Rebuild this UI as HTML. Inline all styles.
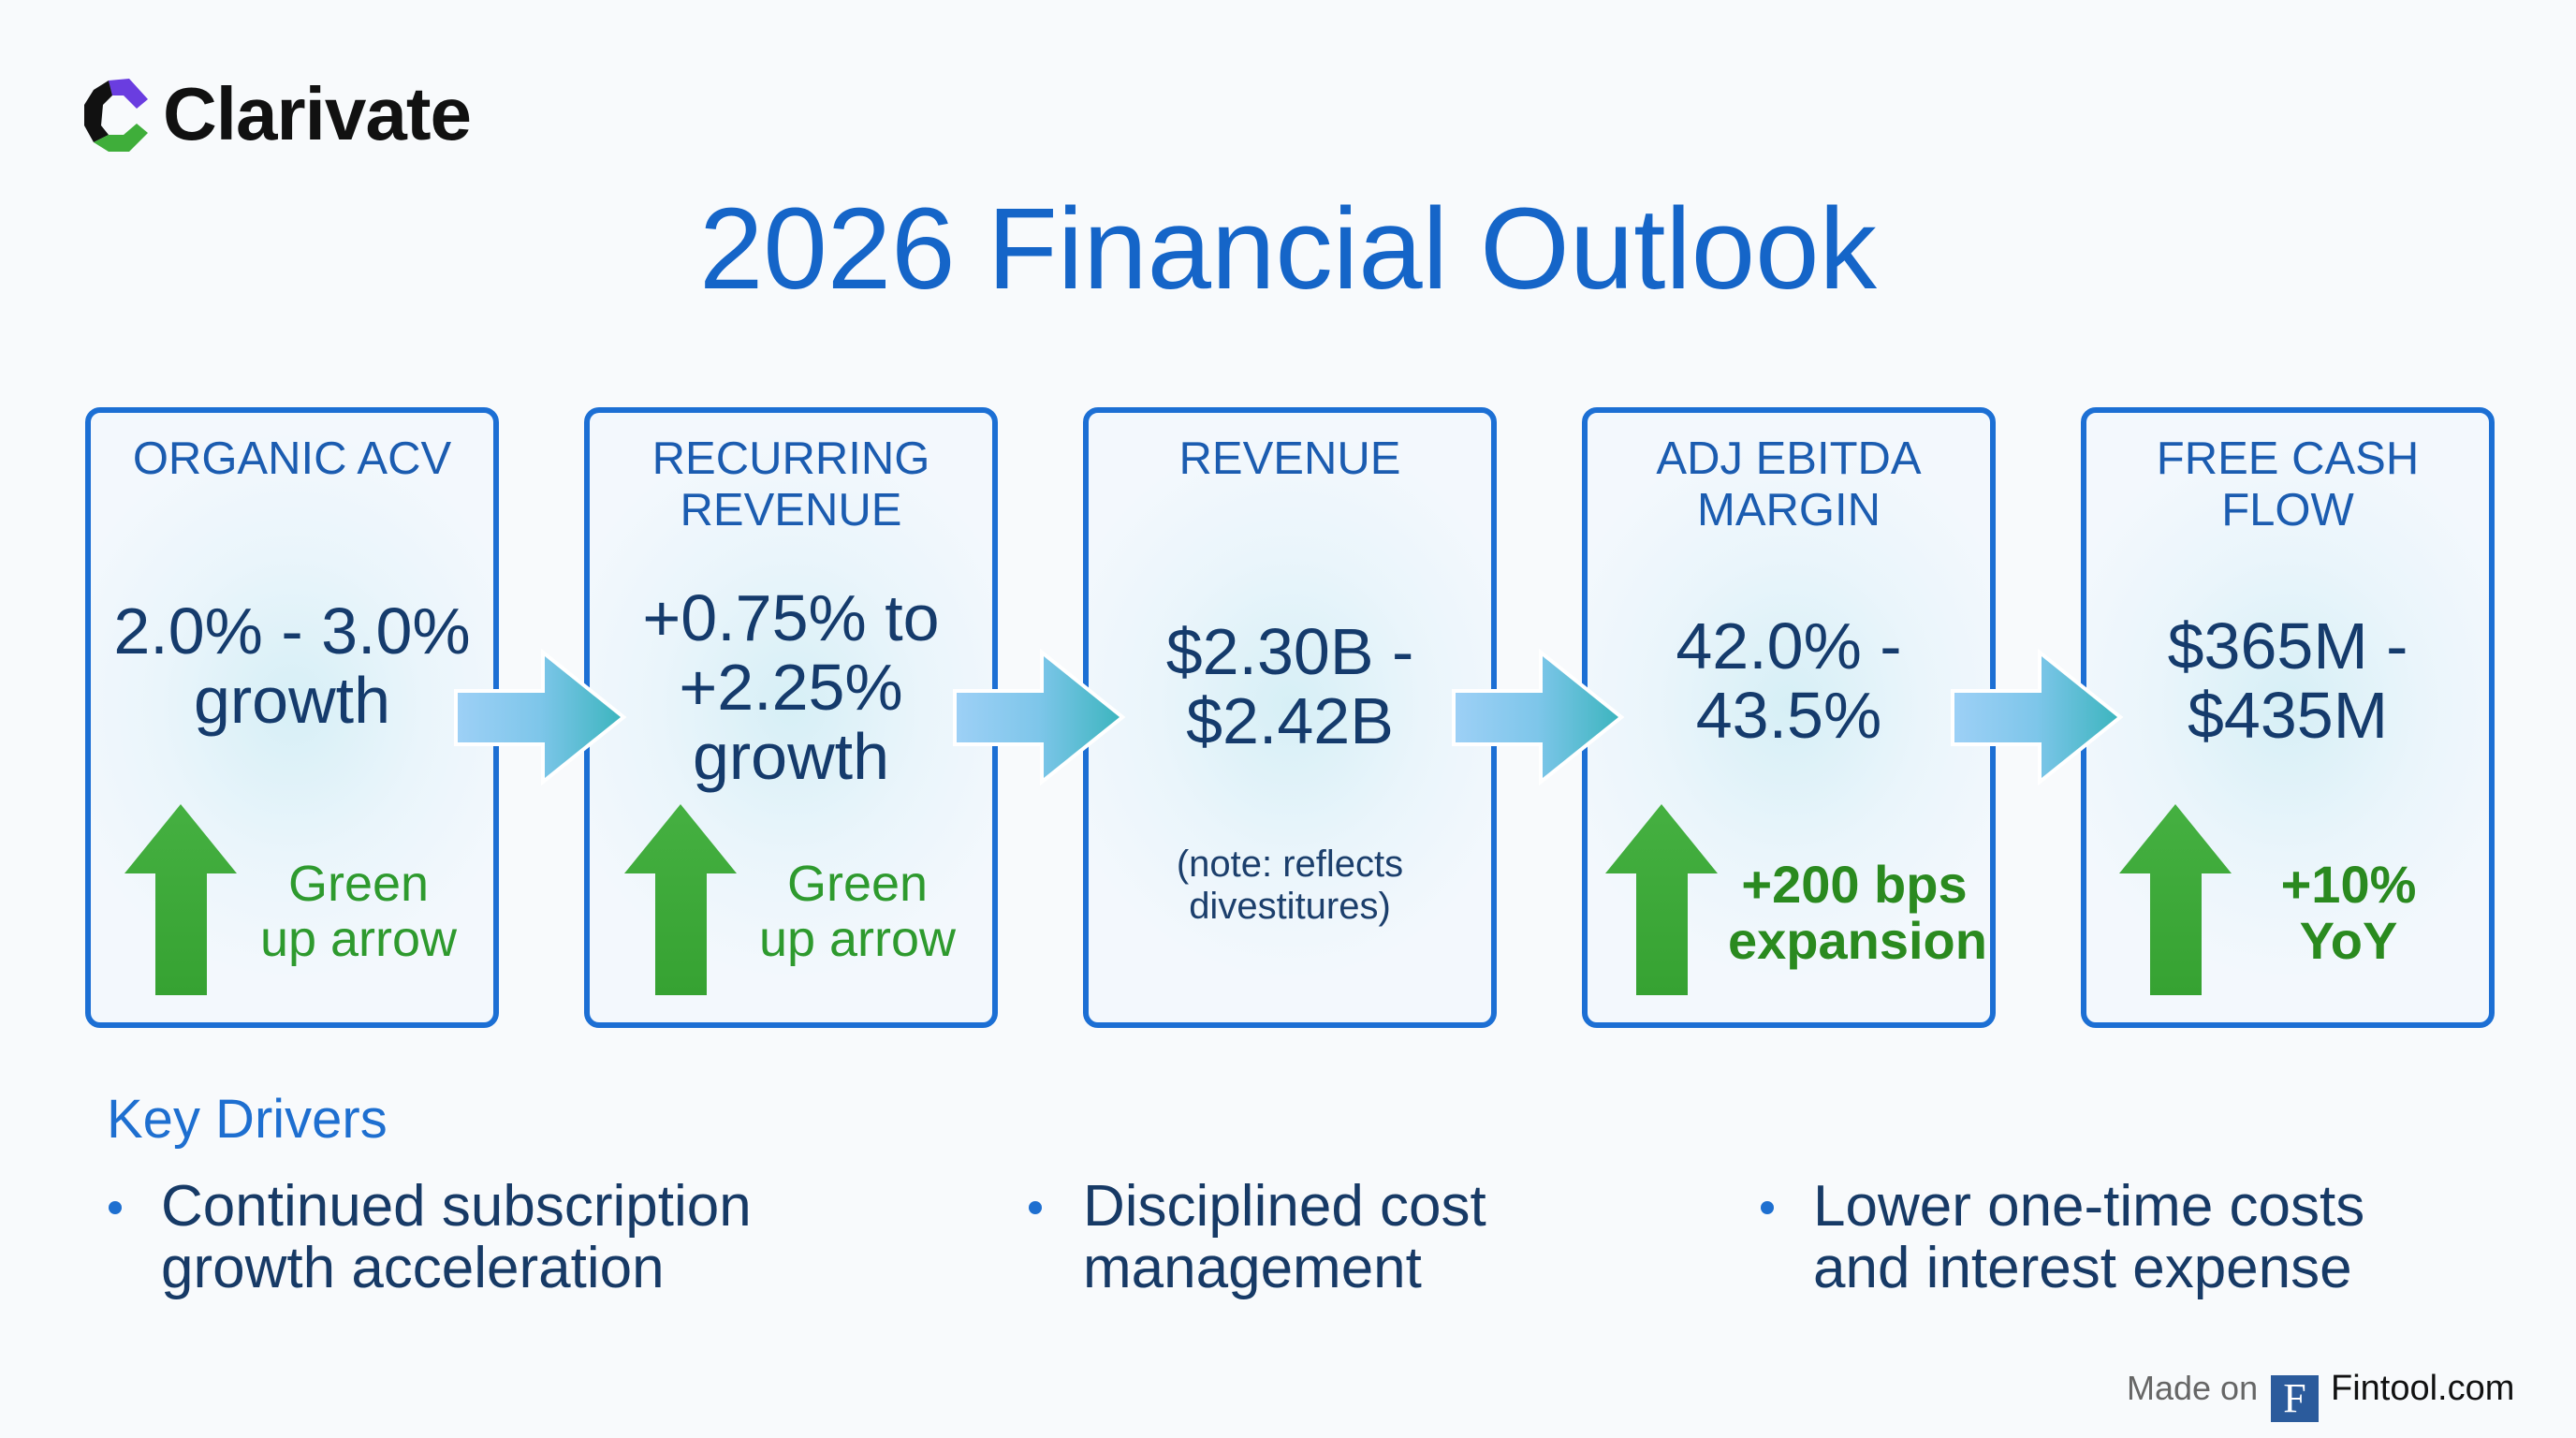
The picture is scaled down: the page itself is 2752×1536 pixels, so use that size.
<!DOCTYPE html>
<html><head><meta charset="utf-8"><style>
*{margin:0;padding:0;box-sizing:border-box}
body{width:2752px;height:1536px;background:#f8fafc;position:relative;overflow:hidden;font-family:"Liberation Sans",sans-serif}
.a{position:absolute}
.box{position:absolute;top:435px;width:442px;height:663px;border:6px solid #1c6fd4;border-radius:16px;background:radial-gradient(ellipse 60% 45% at 50% 48%,#d6eff6 0%,#eaf5fb 55%,#f3f8fd 100%)}
.hd{position:absolute;left:0;width:100%;text-align:center;top:22px;font-size:49px;line-height:55px;color:#1b5cb0}
.val{position:absolute;left:0;width:100%;text-align:center;font-size:70px;line-height:74px;color:#153b6c}
.gt{position:absolute;text-align:center;font-size:54px;line-height:59px;color:#2e9a2e;white-space:nowrap}
.bt{position:absolute;text-align:center;font-size:56px;line-height:60px;color:#2a8a1f;font-weight:bold;white-space:nowrap}
.li{position:absolute;font-size:62px;line-height:66px;color:#173a66;white-space:nowrap}
.dot{position:absolute;width:14px;height:14px;border-radius:50%;background:#1e6fd0}
</style></head><body>
<svg class="a" style="left:86px;top:82px" width="76" height="82" viewBox="0 0 76 82">
<path d="M30 4 L52 2 L72 24 L60 34 L46 20 L34 20Z" fill="#6a3de0"/>
<path d="M14 14 L30 4 L34 20 L24 30 L22 52 L30 62 L14 70 L4 52 L4 30Z" fill="#111"/>
<path d="M30 62 L46 62 L60 50 L72 60 L52 80 L30 80 L14 70Z" fill="#3fae3a"/>
</svg>
<div class="a" style="left:174px;top:76px;font-size:80px;font-weight:bold;color:#111;letter-spacing:-1px">Clarivate</div>
<div class="a" style="left:0;width:2752px;text-align:center;top:196px;font-size:123px;color:#1565c8">2026 Financial Outlook</div>

<div class="box" style="left:91px"><div class="hd">ORGANIC ACV</div>
<div class="val" style="top:196px">2.0% - 3.0%<br>growth</div>
<div class="gt" style="left:146px;width:280px;top:474px">Green<br>up arrow</div></div>
<div class="box" style="left:624px"><div class="hd">RECURRING<br>REVENUE</div>
<div class="val" style="top:182px">+0.75% to<br>+2.25%<br>growth</div>
<div class="gt" style="left:146px;width:280px;top:474px">Green<br>up arrow</div></div>
<div class="box" style="left:1157px"><div class="hd">REVENUE</div>
<div class="val" style="top:218px">$2.30B -<br>$2.42B</div>
<div class="a" style="left:0;width:100%;text-align:center;top:460px;font-size:40px;line-height:45px;color:#1c3f6c">(note: reflects<br>divestitures)</div></div>
<div class="box" style="left:1690px"><div class="hd">ADJ EBITDA<br>MARGIN</div>
<div class="val" style="top:212px">42.0% -<br>43.5%</div>
<div class="bt" style="left:150px;width:270px;top:474px">+200 bps<br>expansion</div></div>
<div class="box" style="left:2223px"><div class="hd">FREE CASH<br>FLOW</div>
<div class="val" style="top:212px">$365M -<br>$435M</div>
<div class="bt" style="left:170px;width:220px;top:474px">+10%<br>YoY</div></div>

<svg class="a" style="left:0;top:0" width="2752" height="1536">
<defs>
<linearGradient id="b" x1="0" x2="1"><stop offset="0" stop-color="#9dd0f6"/><stop offset="0.5" stop-color="#7ec6ea"/><stop offset="1" stop-color="#3db5bf"/></linearGradient>
<linearGradient id="g" x1="0" y1="0" x2="0" y2="1"><stop offset="0" stop-color="#45b041"/><stop offset="1" stop-color="#36a232"/></linearGradient>
</defs>
<g id="ar">
<path d="M489 740 L582 740 L582 701 L663 766 L582 831 L582 793 L489 793Z" fill="url(#b)" stroke="#fff" stroke-width="8" stroke-linejoin="miter"/>
<path d="M489 740 L582 740 L582 701 L663 766 L582 831 L582 793 L489 793Z" fill="url(#b)"/>
</g>
<use href="#ar" x="533"/><use href="#ar" x="1066"/><use href="#ar" x="1599"/>
<g id="ga"><path d="M133 933 L193 859 L253 933 L221 933 L221 1063 L166 1063 L166 933Z" fill="url(#g)"/></g>
<use href="#ga" x="534"/><use href="#ga" x="1582"/><use href="#ga" x="2131"/>
</svg>

<div class="a" style="left:114px;top:1162px;font-size:58px;color:#1e6fd0">Key Drivers</div>
<div class="dot" style="left:116px;top:1283px"></div>
<div class="li" style="left:172px;top:1256px">Continued subscription<br>growth acceleration</div>
<div class="dot" style="left:1099px;top:1283px"></div>
<div class="li" style="left:1157px;top:1256px">Disciplined cost<br>management</div>
<div class="dot" style="left:1881px;top:1283px"></div>
<div class="li" style="left:1937px;top:1256px">Lower one-time costs<br>and interest expense</div>

<div class="a" style="left:2272px;top:1462px;font-size:36px;color:#666">Made on</div>
<div class="a" style="left:2426px;top:1469px;width:51px;height:50px;background:#2b5b9c;color:#fff;font-family:'Liberation Serif',serif;font-size:44px;text-align:center;line-height:50px">F</div>
<div class="a" style="left:2490px;top:1462px;font-size:38px;color:#111">Fintool.com</div>
</body></html>
